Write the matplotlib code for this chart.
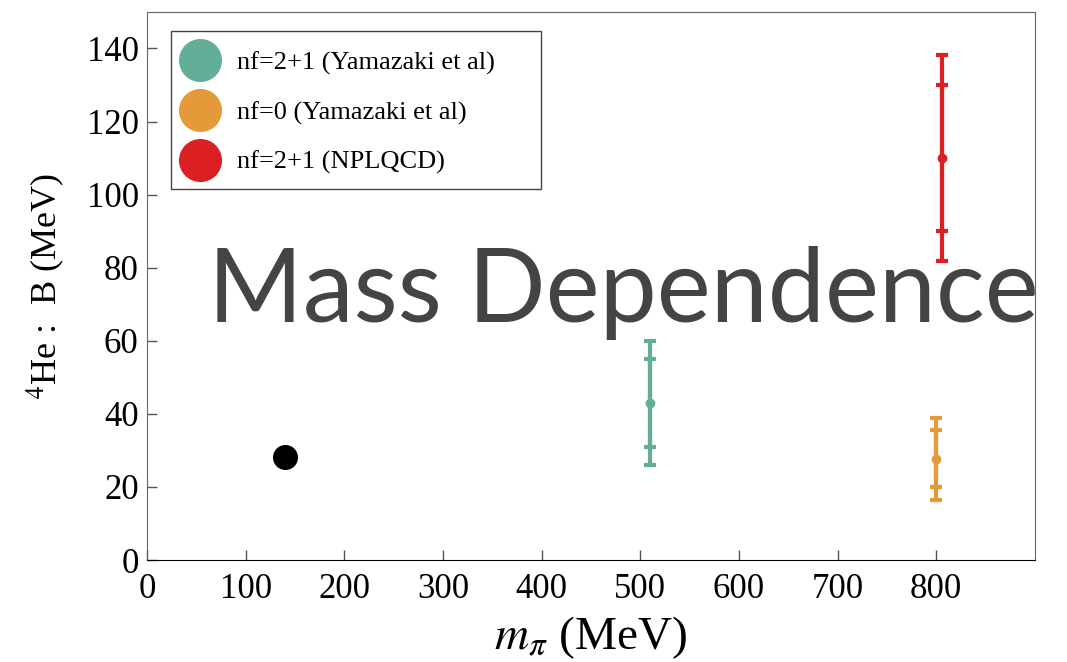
import matplotlib
matplotlib.use("Agg")
import matplotlib.pyplot as plt
from matplotlib.lines import Line2D
from matplotlib.patches import Rectangle

# data
labels = ["nf=2+1 (Yamazaki et al)", "nf=0 (Yamazaki et al)", "nf=2+1 (NPLQCD)"]
colors = ["#62ae98", "#e59a3a", "#dc1f23"]
m_pi = [510, 800, 806]
binding = [43.0, 27.7, 110.0]
err_stat = [12.0, 7.8, 20.0]
err_tot = [17.0, 11.2, 28.2]

phys_m_pi = [140]
phys_binding = [28.3]

plt.rcParams["font.family"] = ["Liberation Serif", "DejaVu Serif"]
plt.rcParams["mathtext.fontset"] = "stix"

fig = plt.figure(figsize=(10.67, 6.62), dpi=100)
ax = fig.add_axes([0.1378, 0.154, 0.832, 0.828])

for x, y, es, et, c in zip(m_pi, binding, err_stat, err_tot, colors):
    ax.errorbar([x], [y], yerr=[et], fmt="o", color=c, ms=6, elinewidth=3,
                capsize=4, capthick=3)
    ax.errorbar([x], [y], yerr=[es], fmt="none", ecolor=c, elinewidth=3,
                capsize=4, capthick=3)

ax.plot(phys_m_pi, phys_binding, "o", color="black", ms=17)

ax.set_xlim(0, 900)
ax.set_ylim(0, 150)
ax.set_xticks(range(0, 900, 100))
ax.set_yticks(range(0, 141, 20))
ax.tick_params(direction="in", length=7, width=1, labelsize=25,
               top=False, right=False, pad=6, colors="#555555",
               labelcolor="black")
ax.tick_params(axis="x", pad=9)
for s in ["left", "top", "right"]:
    ax.spines[s].set_color("#666666")
ax.spines["bottom"].set_color("black")

ax.set_xlabel(r"$m_\pi$ (MeV)", fontsize=34, labelpad=6)
ax.set_ylabel(r"$^4$He :  B (MeV)", fontsize=26, labelpad=14)

handles = [Line2D([], [], marker="o", ls="none", color=c, ms=30) for c in colors]
leg = ax.legend(handles, labels, loc="upper left", bbox_to_anchor=(0.027, 0.943),
                borderaxespad=0, fontsize=19, frameon=False,
                handletextpad=0.6, labelspacing=0.98, borderpad=0.3,
                handlelength=1.6)
ax.add_patch(Rectangle((0.027, 0.677), 0.4167, 0.2883, transform=ax.transAxes,
                       fill=False, edgecolor="#444444", lw=1, zorder=5))

fig.text(0.584, 0.5136, "Mass Dependence", ha="center", va="baseline",
         fontsize=73.5, color="#444444", family=["Lato", "DejaVu Sans"])

fig.savefig("out.png", dpi=100)
